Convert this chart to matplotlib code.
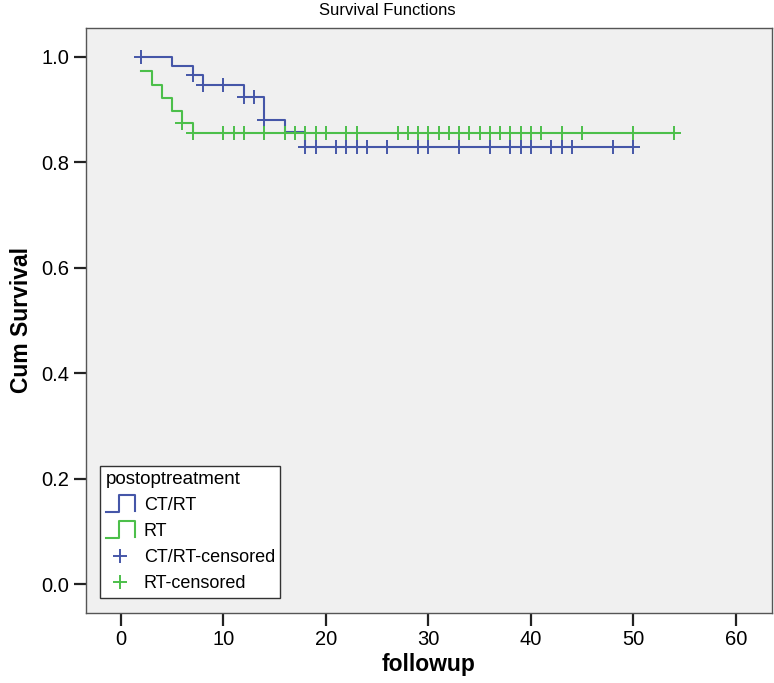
import matplotlib
matplotlib.use("Agg")
import matplotlib.pyplot as plt
import numpy as np
from matplotlib.legend_handler import HandlerLine2D
from matplotlib.lines import Line2D

plt.rcParams["font.family"] = ["Liberation Sans", "DejaVu Sans"]

# Kaplan-Meier curves
ctrt_t = [2, 5, 7, 8, 12, 14, 16, 18, 50]
ctrt_s = [1.0, 0.983, 0.965, 0.946, 0.925, 0.880, 0.858, 0.829, 0.829]
ctrt_cens = [2, 7, 8, 10, 12, 13, 14, 18, 19, 21, 22, 23, 24, 26, 29, 30,
             33, 36, 38, 39, 40, 42, 43, 44, 48, 50]

rt_t = [2, 3, 4, 5, 6, 7, 54]
rt_s = [0.973, 0.946, 0.922, 0.898, 0.874, 0.855, 0.855]
rt_cens = [6, 7, 10, 11, 12, 14, 16, 17, 18, 19, 20, 22, 23, 27, 28, 29, 30,
           31, 32, 33, 34, 35, 36, 37, 38, 39, 40, 41, 43, 45, 50, 54]

blue = "#4556a8"
green = "#4cbf4a"


def surv_at(times, surv, t):
    idx = np.searchsorted(times, t, side="right") - 1
    return np.array(surv)[idx]


class StepHandler(HandlerLine2D):
    # step-shaped legend icon like the SPSS one
    def create_artists(self, legend, orig_handle, xdescent, ydescent,
                       width, height, fontsize, trans):
        x0, x1 = -xdescent, -xdescent + width
        xm = x0 + 0.47 * width
        y0, y1 = -ydescent - 0.15 * height, -ydescent + 1.2 * height
        xs = [x0, xm, xm, x1, x1]
        ys = [y0, y0, y1, y1, y0 + 0.1 * height]
        ln = Line2D(xs, ys, color=orig_handle.get_color(), lw=1.5)
        ln.set_transform(trans)
        return [ln]


fig = plt.figure(figsize=(7.74, 6.83), dpi=100)
ax = fig.add_axes([0.111, 0.1025, 0.886, 0.8565])
ax.set_facecolor("#f0f0f0")

l1, = ax.step(ctrt_t, ctrt_s, where="post", color=blue, lw=1.5)
l2, = ax.step(rt_t, rt_s, where="post", color=green, lw=1.5)
m1, = ax.plot(ctrt_cens, surv_at(ctrt_t, ctrt_s, ctrt_cens), ls="none",
              marker="+", ms=10, mew=1.4, color=blue)
m2, = ax.plot(rt_cens, surv_at(rt_t, rt_s, rt_cens), ls="none",
              marker="+", ms=10, mew=1.4, color=green)

ax.set_xlim(-3.4, 63.5)
ax.set_ylim(-0.055, 1.055)
ax.set_xticks(range(0, 61, 10))
ax.set_yticks(np.arange(0, 1.01, 0.2))
ax.set_yticklabels([f"{v:.1f}" for v in np.arange(0, 1.01, 0.2)])
ax.tick_params(direction="out", length=9, width=1.6, labelsize=14.5,
               color="#222222", pad=3)
for sp in ax.spines.values():
    sp.set_color("#555555")
    sp.set_linewidth(1.0)

ax.set_xlabel("followup", fontsize=16.5, fontweight="bold", labelpad=3)
ax.set_ylabel("Cum Survival", fontsize=16.5, fontweight="bold", labelpad=6)
fig.suptitle("Survival Functions", fontsize=12, x=0.5, y=0.995, va="top")

leg = ax.legend([l1, l2, m1, m2],
                ["CT/RT", "RT", "CT/RT-censored", "RT-censored"],
                title="postoptreatment", loc="lower left",
                bbox_to_anchor=(0.021, 0.026), borderaxespad=0,
                fontsize=13, title_fontsize=13.5, alignment="left",
                frameon=True, fancybox=False, edgecolor="#333333",
                handlelength=1.6, handletextpad=0.5, labelspacing=0.5,
                borderpad=0.3,
                handler_map={l1: StepHandler(), l2: StepHandler()})
leg.get_frame().set_linewidth(1.0)
leg.get_frame().set_facecolor("white")
leg.get_frame().set_alpha(1.0)

fig.savefig("out.png", dpi=100)
